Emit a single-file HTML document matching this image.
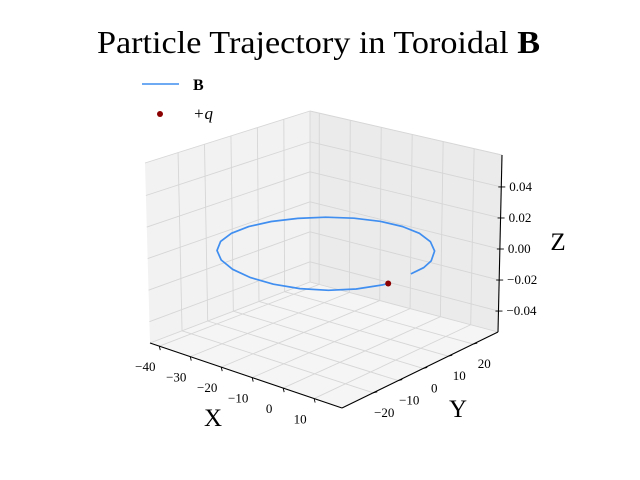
<!DOCTYPE html>
<html><head><meta charset="utf-8"><style>
html,body{margin:0;padding:0;background:#fff;}
svg{display:block;font-family:"Liberation Serif",serif;}
</style></head><body>
<svg id="chart" width="640" height="480" viewBox="0 0 640 480" xmlns="http://www.w3.org/2000/svg">
<text x="97" y="53" font-size="32" textLength="443" lengthAdjust="spacingAndGlyphs" fill="#000">Particle Trajectory in Toroidal <tspan font-weight="bold">B</tspan></text>
<g id="axes"></g>
<g>
<line x1="142" y1="84" x2="179" y2="84" stroke="#3f8ef0" stroke-width="1.5"/>
<text x="193" y="90" font-size="16" font-weight="bold">B</text>
<circle cx="160" cy="114" r="3" fill="#8b0000"/>
<text x="193" y="119" font-size="17" font-style="italic">+q</text>
</g>
</svg>
<script>
const xTicks=[-40,-30,-20,-10,0,10];
const yTicks=[-20,-10,0,10,20];
const zTicks=[-0.04,-0.02,0.00,0.02,0.04];
const zTickLabels=["\u22120.04","\u22120.02","0.00","0.02","0.04"];
const trajX=[11.8,11.6,10.1,6.3,1.1,-5.2,-12.0,-19.1,-25.8,-31.8,-36.5,-39.8,-41.3,-41.0,-38.9,-35.1,-29.9,-23.6,-16.7,-9.7,-3.0,3.0,7.7,11.0,11.5];
const trajY=[3.2,8.5,13.4,19.4,24.1,27.4,28.9,28.6,26.5,22.7,17.5,11.2,4.3,-2.7,-9.4,-15.4,-20.1,-23.4,-24.9,-24.6,-22.5,-18.7,-13.5,-7.2,-5.5];
const trajZ=[0,0,0,0,0,0,0,0,0,0,0,0,0,0,0,0,0,0,0,0,0,0,0,0,0];
const chargeX=[11.5], chargeY=[-5.5], chargeZ=[0];

const XMIN=-43,XMAX=19,YMIN=-32.5,YMAX=29.9,ZMIN=-0.0535,ZMAX=0.0606;
const A=[150,343],B=[342,408],C=[498,332],D=[310,282];
const At=[145,163],Bt=[347,224],Ct=[502,155],Dt=[310,111];
function bil(P,Q,R,S,u,v){return[(1-u)*(1-v)*P[0]+u*(1-v)*Q[0]+u*v*R[0]+(1-u)*v*S[0],(1-u)*(1-v)*P[1]+u*(1-v)*Q[1]+u*v*R[1]+(1-u)*v*S[1]];}
function proj(x,y,z){const u=(x-XMIN)/(XMAX-XMIN),v=(y-YMIN)/(YMAX-YMIN),w=(z-ZMIN)/(ZMAX-ZMIN);
const f=bil(A,B,C,D,u,v),t=bil(At,Bt,Ct,Dt,u,v);return[f[0]+(t[0]-f[0])*w,f[1]+(t[1]-f[1])*w];}
const NS="http://www.w3.org/2000/svg";
const g=document.getElementById('axes');
function mk(tag,attrs,parent){const e=document.createElementNS(NS,tag);for(const k in attrs)e.setAttribute(k,attrs[k]);(parent||g).appendChild(e);return e;}
function pts(a){return a.map(p=>p[0].toFixed(1)+','+p[1].toFixed(1)).join(' ');}
let e;
e=mk('polygon',{points:pts([At,Dt,D,A]),fill:'#f2f2f2'});


e=mk('polygon',{points:pts([Dt,Ct,C,D]),fill:'#ebebeb'});


e=mk('polygon',{points:pts([A,D,C,B]),fill:'#f5f5f5'});


const GS={stroke:'#d6d6d6','stroke-width':0.9,fill:'none'};
function gl(p,q,name){const l=mk('line',Object.assign({x1:p[0],y1:p[1],x2:q[0],y2:q[1]},GS));

}
xTicks.forEach(x=>{gl(proj(x,YMIN,ZMIN),proj(x,YMAX,ZMIN),'gridline-x');gl(proj(x,YMAX,ZMIN),proj(x,YMAX,ZMAX),'gridline-x');});
yTicks.forEach(y=>{gl(proj(XMIN,y,ZMIN),proj(XMAX,y,ZMIN),'gridline-y');gl(proj(XMIN,y,ZMIN),proj(XMIN,y,ZMAX),'gridline-y');});
zTicks.forEach(z=>{gl(proj(XMIN,YMIN,z),proj(XMIN,YMAX,z),'gridline-z');gl(proj(XMIN,YMAX,z),proj(XMAX,YMAX,z),'gridline-z');});
gl(At,Dt,'pane-edge');gl(Dt,Ct,'pane-edge');gl(D,Dt,'pane-edge');gl(A,D,'pane-edge');gl(D,C,'pane-edge');
function al(p,q,name){const l=mk('line',{x1:p[0],y1:p[1],x2:q[0],y2:q[1],stroke:'#000','stroke-width':1.1});

}
al(A,B,'x-axis-line');al(B,C,'y-axis-line');al(C,Ct,'z-axis-line');
function txt(s,x,y,size,name,anchor){const t=mk('text',{x:x,y:y,'font-size':size,'text-anchor':anchor||'middle',fill:'#000'});t.textContent=s;

return t;}
function lab(v){return v<0?'\u2212'+Math.abs(v):String(v);}
xTicks.forEach(x=>{const p=proj(x,YMIN,ZMIN);gl(p,[p[0]+1,p[1]+4],'x-tick');
 g.lastChild.setAttribute('stroke','#000');
 txt(lab(x),p[0]-14,p[1]+25,13,'x-tick-label');});
yTicks.forEach(y=>{const p=proj(XMAX,y,ZMIN);gl(p,[p[0]+4,p[1]-1],'y-tick');
 g.lastChild.setAttribute('stroke','#000');
 txt(lab(y),p[0]+11,p[1]+24,13,'y-tick-label');});
zTicks.forEach((z,i)=>{const p=proj(XMAX,YMAX,z);gl([p[0]-3,p[1]],[p[0]+4,p[1]],'z-tick');
 g.lastChild.setAttribute('stroke','#000');
 txt(zTickLabels[i],p[0]+8,p[1]+4,13,'z-tick-label','start');});
txt('X',213,426,25,'x-axis-title');
txt('Y',458,417,25,'y-axis-title');
txt('Z',558,250,25,'z-axis-title');
const tp=trajX.map((x,i)=>proj(x,trajY[i],trajZ[i]));
const path=mk('polyline',{points:pts(tp),fill:'none',stroke:'#3f8ef0','stroke-width':1.7,'stroke-linejoin':'round'});


chargeX.forEach((x,i)=>{const p=proj(x,chargeY[i],chargeZ[i]);
 const c=mk('circle',{cx:p[0],cy:p[1],r:3,fill:'#8b0000'});
 
 });
</script>
</body></html>
